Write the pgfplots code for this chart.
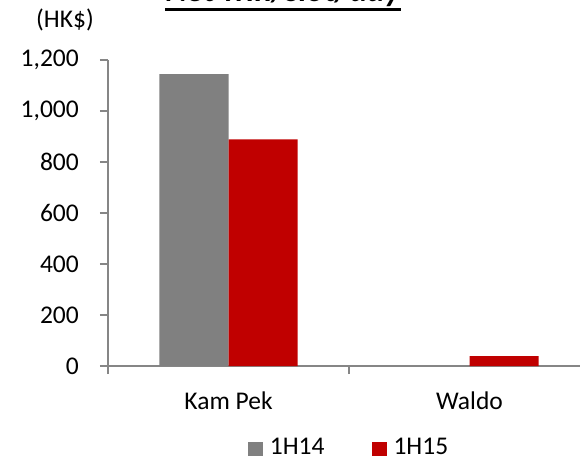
\documentclass[border=0pt]{standalone}
\usepackage{fontspec}
\setmainfont{Carlito}
\usepackage{pgfplots}
\pgfplotsset{compat=1.18}
\definecolor{axgray}{HTML}{868686}
\definecolor{bargray}{HTML}{808080}
\definecolor{barred}{HTML}{C00000}
\begin{document}
\fontsize{25.5}{30}\selectfont
\begin{tikzpicture}
\begin{axis}[
  at={(0pt,0pt)}, anchor=south west,
  scale only axis, width=482pt, height=306pt,
  xmin=-0.5, xmax=1.5, ymin=0, ymax=1200,
  axis lines*=left,
  axis line style={draw=axgray, line width=1.5pt, -},
  ytick={0,200,400,600,800,1000,1200},
  yticklabels={0,200,400,600,800,{1,000},{1,200}},
  xtick={-0.5,0.5,1.5}, xticklabels={},
  extra x ticks={0,1},
  extra x tick labels={Kam Pek, Waldo},
  extra x tick style={major tick length=0pt},
  tick align=outside, major tick length=8pt,
  tick style={draw=axgray, line width=1.5pt},
  yticklabel style={inner sep=0pt, anchor=east, xshift=-21pt},
  xticklabel style={inner sep=0pt, anchor=north, yshift=-26pt},
  ybar=0pt, bar width=69pt,
  legend style={draw=none, fill=none, at={(0.498,-0.27)}, anchor=center,
    legend columns=2, nodes={inner sep=0pt},
    /tikz/every odd column/.append style={column sep=7pt},
    /tikz/every even column/.append style={column sep=47pt}},
  legend image code/.code={\fill[#1] (0pt,-7pt) rectangle (15pt,7pt);},
]
\addplot[fill=bargray, draw=none] coordinates {(0,1145) (1,0)};
\addplot[fill=barred, draw=none] coordinates {(0,889) (1,39)};
\legend{1H14,1H15}
\end{axis}
\node[inner sep=0pt, anchor=base] at (-43pt,338pt) {(HK\$)};
\node[inner sep=0pt, anchor=base, font={\fontsize{33}{38}\selectfont\bfseries\itshape}] (t) at (175pt,364pt) {Net win/slot/day};
\draw[line width=2.2pt] ([yshift=-7.5pt]t.base west) -- ([yshift=-7.5pt]t.base east);
\pgfresetboundingbox
\useasboundingbox (-108pt,-94pt) rectangle (472pt,366pt);
\end{tikzpicture}
\end{document}
